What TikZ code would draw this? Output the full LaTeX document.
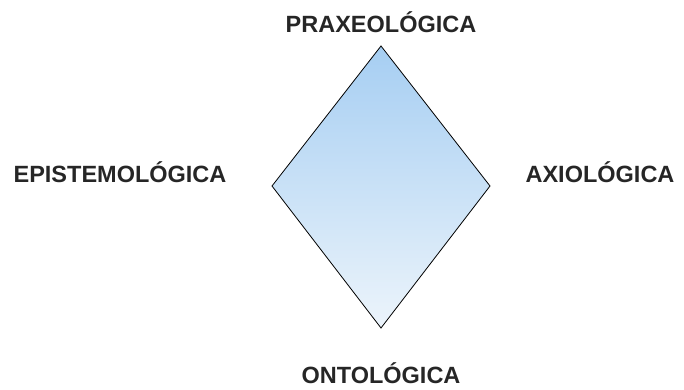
\documentclass[tikz,border=0pt]{standalone}
\usepackage{fontspec}
\setmainfont{Liberation Sans}
\begin{document}
\begin{tikzpicture}[x=1pt,y=1pt,
    lbl/.style={font=\bfseries\fontsize{23.5}{27}\selectfont,text=black!85}]
            \useasboundingbox (0,0) rectangle (684,389);
            \coordinate (top) at (381,343);
            \coordinate (bot) at (381,61);
            \coordinate (lft) at (272,203);
            \coordinate (rgt) at (490,203);
            \draw[thick,top color={rgb,255:red,166;green,206;blue,242},
                bottom color={rgb,255:red,236;green,244;blue,251}]
                (top)--(rgt)--(bot)--(lft)--cycle;
            \node[lbl] (prax) at (381,367) {PRAXEOLÓGICA};
            \node[lbl] (epis) at (120,217) {EPISTEMOLÓGICA};
            \node[lbl] (axio) at (600,217) {AXIOLÓGICA};
            \node[lbl] (onto) at (381,16) {ONTOLÓGICA};
            \end{tikzpicture}
\end{document}
